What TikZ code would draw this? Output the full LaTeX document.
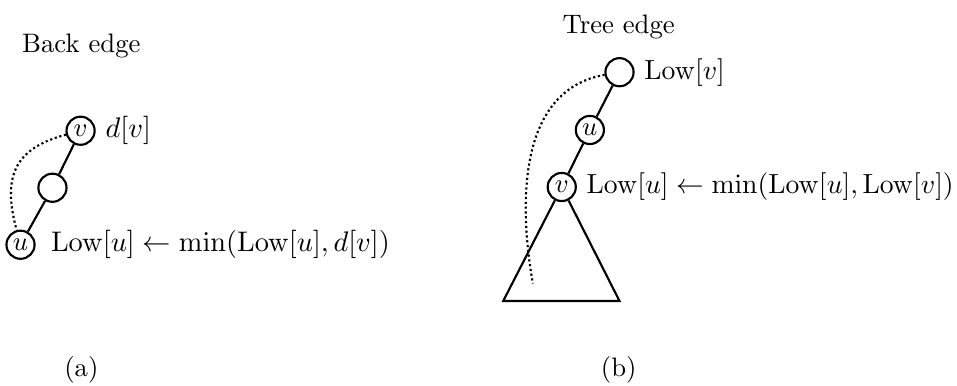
\documentclass[tikz,border=0pt]{standalone}
\usepackage{amsmath,amssymb}
\usepackage{tikz}
\usetikzlibrary{positioning}

\begin{document}
\begin{tikzpicture}[
  vtx/.style={circle, draw, thick, minimum size=0.37cm, inner sep=0pt},
  lbl/.style={transform shape, scale=1.06},
  lblb/.style={transform shape, scale=1.035},
  treeline/.style={thick},
  backline/.style={thick, densely dotted}]
  \useasboundingbox (0,0) rectangle (12.59,-5.066);

  % (a) back edge
  \node (titlea) at (1.07,-0.6) {Back edge};
  \node[vtx] (va) at (1.06,-1.72) {$v$};
  \node[vtx] (ma) at (0.69,-2.47) {};
  \node[vtx] (ua) at (0.27,-3.22) {$u$};
  \draw[treeline] (va) -- (ma) -- (ua);
  \draw[backline] (va) to[out=195, in=105, looseness=1.3] (ua);
  \node[lbl, right=0pt of va] (dva) {$d[v]$};
  \node[lbl, right=2pt of ua] (lowa) {$\mathrm{Low}[u] \leftarrow \min(\mathrm{Low}[u], d[v])$};
  \node (capa) at (1.07,-4.87) {(a)};

  % (b) tree edge
  \node (titleb) at (8.14,-0.35) {Tree edge};
  \node[vtx] (tb) at (8.15,-0.95) {};
  \node[vtx] (ub) at (7.76,-1.71) {$u$};
  \node[vtx] (vb) at (7.39,-2.46) {$v$};
  \coordinate (bl) at (6.62,-3.96);
  \coordinate (br) at (8.15,-3.96);
  \coordinate (tail) at (7.01,-3.73);
  \draw[treeline] (tb) -- (ub) -- (vb);
  \draw[treeline] (vb) -- (bl) -- (br) -- (vb);
  \draw[backline] (tb) to[out=190, in=100] (tail);
  \node[lblb, right=0pt of tb] (lowv) {$\mathrm{Low}[v]$};
  \node[lblb, right=0pt of vb] (lowb) {$\mathrm{Low}[u] \leftarrow \min(\mathrm{Low}[u], \mathrm{Low}[v])$};
  \node (capb) at (8.14,-4.87) {(b)};
\end{tikzpicture}
\end{document}
